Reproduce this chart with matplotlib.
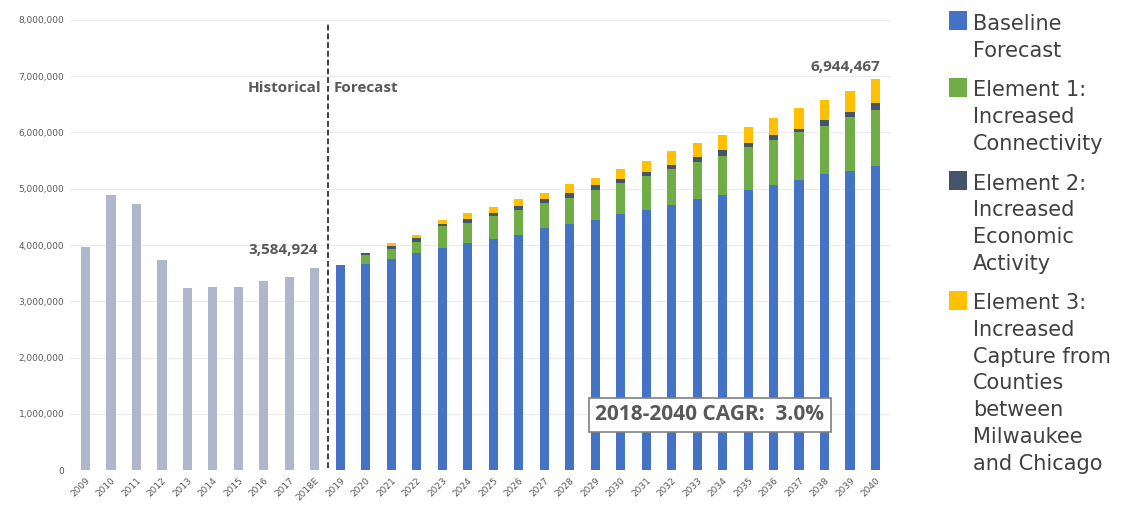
import matplotlib
matplotlib.use('Agg')
import matplotlib.pyplot as plt
from matplotlib.patches import Rectangle
from matplotlib.ticker import FuncFormatter

years = ['2009', '2010', '2011', '2012', '2013', '2014', '2015', '2016', '2017', '2018E',
         '2019', '2020', '2021', '2022', '2023', '2024', '2025', '2026', '2027', '2028',
         '2029', '2030', '2031', '2032', '2033', '2034', '2035', '2036', '2037', '2038',
         '2039', '2040']

# historical passengers 2009-2018E
historical = [3960000, 4890000, 4730000, 3730000, 3240000, 3250000, 3250000, 3360000,
              3430000, 3584924]

# forecast components 2019-2040
baseline = [3640000, 3670000, 3760000, 3850000, 3950000, 4030000, 4110000, 4180000,
            4300000, 4370000, 4440000, 4550000, 4620000, 4710000, 4810000, 4890000,
            4980000, 5070000, 5160000, 5260000, 5320000, 5400000]
element1 = [0, 160000, 170000, 210000, 380000, 370000, 400000, 440000, 440000, 470000,
            540000, 550000, 600000, 640000, 670000, 700000, 760000, 800000, 850000,
            860000, 950000, 1000000]
element2 = [0, 30000, 50000, 60000, 40000, 70000, 60000, 70000, 70000, 90000, 80000,
            70000, 80000, 70000, 80000, 100000, 70000, 80000, 60000, 100000, 90000,
            120000]
element3 = [0, 0, 60000, 50000, 70000, 100000, 110000, 130000, 120000, 150000, 130000,
            180000, 200000, 260000, 250000, 270000, 290000, 300000, 360000, 360000,
            380000, 424467]

legend_labels = [['Baseline', 'Forecast'],
                 ['Element 1:', 'Increased', 'Connectivity'],
                 ['Element 2:', 'Increased', 'Economic', 'Activity'],
                 ['Element 3:', 'Increased', 'Capture from', 'Counties', 'between',
                  'Milwaukee', 'and Chicago']]
colors = ['#4472C4', '#70AD47', '#44546A', '#FFC000']
hist_color = '#AEB7CC'
gray_text = '#595959'

fig = plt.figure(figsize=(11.28, 5.11), dpi=100)
ax = fig.add_axes([70 / 1128, 41 / 511, 821 / 1128, 450 / 511])

w = 0.37
hx = list(range(len(historical)))
ax.bar(hx, historical, width=w, color=hist_color, zorder=2)

fx = list(range(len(historical), len(years)))
bottom = [0] * len(fx)
for vals, c in zip([baseline, element1, element2, element3], colors):
    ax.bar(fx, vals, width=w, bottom=bottom, color=c, zorder=2)
    bottom = [b + v for b, v in zip(bottom, vals)]

ax.set_xlim(-0.6, len(years) - 0.4)
ax.set_ylim(0, 8000000)
ax.set_yticks(range(0, 8000001, 1000000))
ax.yaxis.set_major_formatter(FuncFormatter(lambda v, p: f'{int(v):,}'))
ax.set_xticks(range(len(years)))
ax.set_xticklabels(years, rotation=45, ha='right', rotation_mode='anchor')
ax.tick_params(axis='both', length=0, labelsize=6.5, labelcolor=gray_text, pad=4)
ax.grid(axis='y', color='#EBEBEB', linewidth=0.8, zorder=0)
for s in ax.spines.values():
    s.set_visible(False)

# historical / forecast divider
ax.axvline(len(historical) - 0.5, ymin=0.005, ymax=0.99, color='#404040',
           linestyle=(0, (3, 1.5)), linewidth=1.4, zorder=3)
ax.text(len(historical) - 0.75, 6800000, 'Historical', ha='right', va='center',
        fontsize=11, fontweight='bold', color=gray_text, family='Open Sans')
ax.text(len(historical) - 0.25, 6800000, 'Forecast', ha='left', va='center',
        fontsize=11, fontweight='bold', color=gray_text, family='Open Sans')

ax.text(7.75, 3910000, f'{historical[-1]:,}', ha='center', va='center',
        fontsize=11, fontweight='bold', color=gray_text, family='Open Sans')
ax.text(29.8, 7160000, f'{bottom[-1]:,}', ha='center', va='center',
        fontsize=11, fontweight='bold', color=gray_text, family='Open Sans')

ax.text(24.5, 980000, '2018-2040 CAGR:  3.0%', ha='center', va='center', fontsize=15,
        fontweight='bold', color=gray_text, family='Open Sans', zorder=5,
        bbox=dict(boxstyle='square,pad=0.3', facecolor='white', edgecolor='#7F7F7F',
                  linewidth=1.2))

# legend drawn by hand on the right
pitch, gap = 26.7, 13
base = 30
for lines, c in zip(legend_labels, colors):
    fig.patches.append(Rectangle((949 / 1128, 1 - (base + 0.5) / 511), 18 / 1128, 19 / 511,
                                 transform=fig.transFigure, facecolor=c, edgecolor='none'))
    for i, line in enumerate(lines):
        fig.text(973 / 1128, 1 - (base + i * pitch) / 511, line, ha='left', va='baseline',
                 fontsize=15, color='#404040', family='DejaVu Sans')
    base += pitch * len(lines) + gap

fig.savefig('out.png', dpi=100)
